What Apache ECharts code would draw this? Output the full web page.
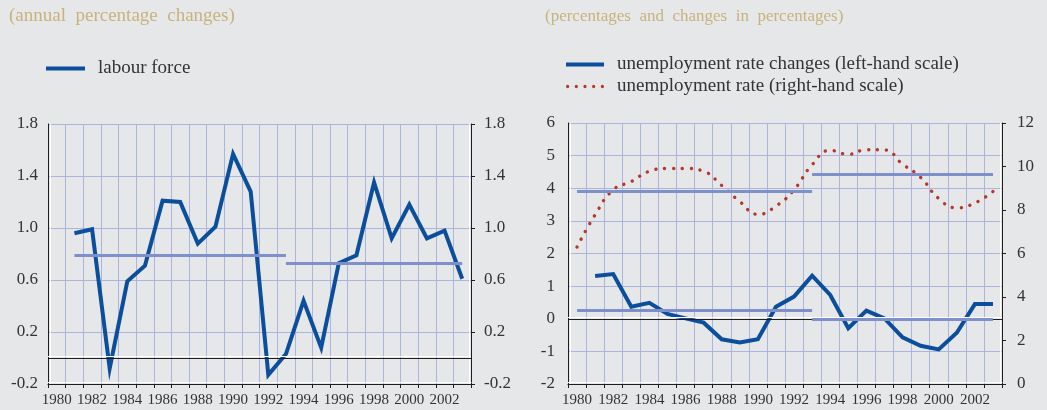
<!DOCTYPE html>
<html>
<head>
<meta charset="utf-8">
<script src="https://cdn.jsdelivr.net/npm/echarts@6/dist/echarts.min.js"></script>
<style>
  html, body { margin: 0; padding: 0; background: #e6e7e9; }
  #chart { width: 1047px; height: 410px; }
</style>
</head>
<body>
<div id="chart"></div>
<script>
// Years on both horizontal axes
const years = ['1980', '1981', '1982', '1983', '1984', '1985', '1986', '1987', '1988', '1989',
  '1990', '1991', '1992', '1993', '1994', '1995', '1996', '1997', '1998', '1999',
  '2000', '2001', '2002', '2003'];

// Labour force, annual percentage changes
const labourForce = [null, 0.96, 0.99, -0.08, 0.59, 0.71, 1.21, 1.20, 0.88, 1.01,
  1.57, 1.28, -0.13, 0.03, 0.44, 0.08, 0.73, 0.79, 1.35, 0.92,
  1.18, 0.92, 0.98, 0.61];
// Period averages of labour force growth
const labourForceAvg = [
  { from: '1981', to: '1993', value: 0.79 },
  { from: '1993', to: '2003', value: 0.73 }
];

// Unemployment rate changes (left-hand scale)
const unempChanges = [null, 1.31, 1.37, 0.37, 0.49, 0.15, 0.01, -0.12, -0.63, -0.73,
  -0.63, 0.37, 0.68, 1.32, 0.73, -0.29, 0.25, 0.01, -0.57, -0.83,
  -0.94, -0.43, 0.45, 0.45];
const unempChangesAvg = [
  { from: '1980', to: '1993', value: 0.27 },
  { from: '1993', to: '2003', value: 0.0 }
];

// Unemployment rate, percent (right-hand scale)
const unempRate = [6.3, 7.78, 8.93, 9.31, 9.78, 9.91, 9.91, 9.78, 9.13, 8.39,
  7.80, 8.18, 8.93, 10.08, 10.74, 10.56, 10.77, 10.76, 10.11, 9.50,
  8.53, 8.10, 8.32, 8.85];
const unempRateAvg = [
  { from: '1980', to: '1993', value: 8.85 },
  { from: '1993', to: '2003', value: 9.65 }
];

// Tick values of the value axes
const labourTicks = [-0.2, 0.2, 0.6, 1.0, 1.4, 1.8];
const changeTicks = [-2, -1, 0, 1, 2, 3, 4, 5, 6];
const rateTicks = [0, 2, 4, 6, 8, 10, 12];

const SERIF = 'Liberation Serif';
const INK = '#333333';
const GRID_BLUE = '#aab4de';
const LINE_BLUE = '#0b4f9c';
const AVG_BLUE = '#7d90ca';
const DOT_RED = '#b5382c';

// five round dots, used as the legend key of the dotted series
const DOT_ICON = 'path://' + [1.7, 10.7, 19.7, 28.7, 37.7].map(cx =>
  `M${cx - 1.7},1.7a1.7,1.7 0 1,0 3.4,0a1.7,1.7 0 1,0 -3.4,0Z`).join(' ');

const axisLineStyle = (dx, dy) => ({
  color: '#1e1e1e', width: 1,
  shadowColor: '#ffffff', shadowBlur: 0, shadowOffsetX: dx, shadowOffsetY: dy
});

function categoryAxis(gridIndex) {
  return {
    type: 'category', gridIndex, data: years, boundaryGap: true,
    axisLine: { show: true, onZero: false, lineStyle: axisLineStyle(0, -2) },
    axisTick: { show: true, interval: 0, length: 4, lineStyle: { color: '#1e1e1e' } },
    axisLabel: { interval: 1, margin: 9, color: INK, fontFamily: SERIF, fontSize: 15 },
    splitLine: { show: true, interval: 0, lineStyle: { color: GRID_BLUE, width: 1 } }
  };
}

function valueAxis(gridIndex, ticks, position, opts) {
  const o = opts || {};
  return {
    type: 'value', gridIndex, position,
    min: ticks[0], max: ticks[ticks.length - 1], interval: ticks[1] - ticks[0],
    axisLine: { show: true, onZero: false,
      lineStyle: axisLineStyle(position === 'left' ? 2 : -2, 0) },
    axisTick: { show: position === 'right', length: 4, lineStyle: { color: '#1e1e1e' } },
    axisLabel: { margin: o.margin || 12, color: INK, fontFamily: SERIF, fontSize: 17,
      formatter: o.formatter },
    splitLine: { show: !!o.split, lineStyle: { color: GRID_BLUE, width: 1 } }
  };
}

function avgLines(list) {
  return list.map(a => [
    { coord: [a.from, a.value] },
    { coord: [a.to, a.value] }
  ]);
}

const zeroLine = {
  yAxis: 0,
  lineStyle: { color: '#1e1e1e', width: 1, type: 'solid',
    shadowColor: '#ffffff', shadowBlur: 0, shadowOffsetX: 0, shadowOffsetY: -2 }
};

const oneDecimal = v => v.toFixed(1);

const legendText = { color: INK, fontFamily: SERIF, fontSize: 19, padding: [0, 0, 0, 8] };

const option = {
  backgroundColor: '#e6e7e9',
  animation: false,
  title: [
    { text: '(annual  percentage  changes)', left: 9, top: 7, padding: 0,
      textStyle: { color: '#c8b37d', fontFamily: SERIF, fontSize: 19, fontWeight: 'normal' } },
    { text: '(percentages  and  changes  in  percentages)', left: 545, top: 8, padding: 0,
      textStyle: { color: '#c8b37d', fontFamily: SERIF, fontSize: 17, fontWeight: 'normal' } }
  ],
  legend: [
    { data: [{ name: 'labour force', icon: 'rect' }],
      left: 46, top: 59, padding: 0, itemWidth: 39, itemHeight: 4,
      itemGap: 10, selectedMode: false, textStyle: legendText },
    { data: [
        { name: 'unemployment rate changes (left-hand scale)', icon: 'rect' },
        { name: 'unemployment rate (right-hand scale)', icon: DOT_ICON }
      ],
      orient: 'vertical', left: 566, top: 55, padding: 0, itemWidth: 38, itemHeight: 4,
      itemGap: 3, selectedMode: false, textStyle: legendText }
  ],
  grid: [
    { left: 48, right: 576, top: 124, bottom: 26 },
    { left: 568, right: 45, top: 123, bottom: 26 }
  ],
  xAxis: [categoryAxis(0), categoryAxis(1)],
  yAxis: [
    valueAxis(0, labourTicks, 'left', { split: true, margin: 10, formatter: oneDecimal }),
    valueAxis(0, labourTicks, 'right', { margin: 13, formatter: oneDecimal }),
    valueAxis(1, changeTicks, 'left', { split: true, margin: 13 }),
    valueAxis(1, rateTicks, 'right', { margin: 15 })
  ],
  series: [
    {
      name: 'reference lines A', type: 'line', xAxisIndex: 0, yAxisIndex: 0, data: [], z: 2,
      silent: true,
      markLine: {
        silent: true, symbol: 'none', label: { show: false }, animation: false,
        lineStyle: { color: AVG_BLUE, width: 3, type: 'solid' },
        data: [zeroLine].concat(avgLines(labourForceAvg))
      }
    },
    {
      name: 'labour force', type: 'line', xAxisIndex: 0, yAxisIndex: 0, data: labourForce,
      symbol: 'none', z: 4, color: LINE_BLUE,
      lineStyle: { color: LINE_BLUE, width: 4, join: 'miter' }
    },
    {
      name: 'reference lines B', type: 'line', xAxisIndex: 1, yAxisIndex: 2, data: [], z: 2,
      silent: true,
      markLine: {
        silent: true, symbol: 'none', label: { show: false }, animation: false,
        lineStyle: { color: AVG_BLUE, width: 3, type: 'solid' },
        data: [zeroLine].concat(avgLines(unempChangesAvg))
      }
    },
    {
      name: 'reference lines C', type: 'line', xAxisIndex: 1, yAxisIndex: 3, data: [], z: 2,
      silent: true,
      markLine: {
        silent: true, symbol: 'none', label: { show: false }, animation: false,
        lineStyle: { color: AVG_BLUE, width: 3, type: 'solid' },
        data: avgLines(unempRateAvg)
      }
    },
    {
      name: 'unemployment rate changes (left-hand scale)', type: 'line',
      xAxisIndex: 1, yAxisIndex: 2, data: unempChanges,
      symbol: 'none', z: 4, color: LINE_BLUE,
      lineStyle: { color: LINE_BLUE, width: 4, join: 'miter' }
    },
    {
      name: 'unemployment rate (right-hand scale)', type: 'line',
      xAxisIndex: 1, yAxisIndex: 3, data: unempRate,
      symbol: 'none', smooth: 0.5, z: 4, color: DOT_RED,
      lineStyle: { color: DOT_RED, width: 3.4, type: [0.1, 8.8], cap: 'round' }
    }
  ]
};

const chart = echarts.init(document.getElementById('chart'), null, { renderer: 'canvas' });
chart.setOption(option);
</script>
</body>
</html>
